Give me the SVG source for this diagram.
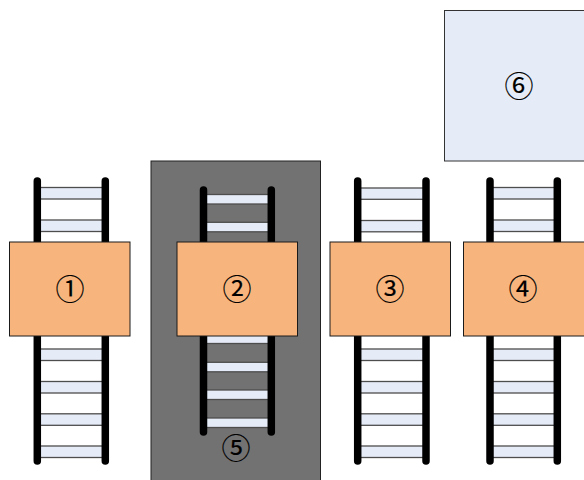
<svg xmlns="http://www.w3.org/2000/svg" width="584" height="480" viewBox="0 0 584 480">
  <style>
    .rail { stroke: #000; stroke-width: 7.5; stroke-linecap: round; fill: none; }
    .rung { fill: #e5ecf7; stroke: #4d4d4d; stroke-width: 1.3; }
    .box { fill: #f7b57d; stroke: #1a1a1a; stroke-width: 1; }
    .lbl { font-family: "Noto Sans CJK JP", "Noto Sans CJK SC", sans-serif; font-size: 29px; fill: #000; stroke: #000; stroke-width: 0.15; text-anchor: middle; dominant-baseline: central; }
  </style>
  <rect width="584" height="480" fill="#ffffff"/>

  <g id="panel5">
    <rect x="151" y="161" width="169.5" height="325" fill="#727272" stroke="#222" stroke-width="1"/>
    <text class="lbl" x="236" y="445.5">⑤</text>
  </g>

  <g id="node6">
    <rect x="444.5" y="10.5" width="145" height="150.5" fill="#e6ecf7" stroke="#333" stroke-width="1"/>
    <text class="lbl" x="519" y="83.5">⑥</text>
  </g>

  <g id="ladder1">
    <rect class="rung" x="40" y="187.5" width="64" height="11.5"/>
    <rect class="rung" x="40" y="220" width="64" height="11.5"/>
    <rect class="rung" x="40" y="349" width="64" height="11.5"/>
    <rect class="rung" x="40" y="381.5" width="64" height="11.5"/>
    <rect class="rung" x="40" y="413.8" width="64" height="11.5"/>
    <rect class="rung" x="40" y="446" width="64" height="11.5"/>
    <line class="rail" x1="37.3" y1="181" x2="37.3" y2="461"/>
    <line class="rail" x1="105.3" y1="181" x2="105.3" y2="461"/>
  </g>

  <g id="ladder2">
    <rect class="rung" x="206" y="194.5" width="63" height="9.5"/>
    <rect class="rung" x="206" y="222.3" width="63" height="9.5"/>
    <rect class="rung" x="206" y="334" width="63" height="9.5"/>
    <rect class="rung" x="206" y="362.3" width="63" height="9.5"/>
    <rect class="rung" x="206" y="390" width="63" height="9.5"/>
    <rect class="rung" x="206" y="418" width="63" height="9.5"/>
    <line class="rail" x1="203.5" y1="190" x2="203.5" y2="432"/>
    <line class="rail" x1="271.3" y1="190" x2="271.3" y2="432"/>
  </g>

  <g id="ladder3">
    <rect class="rung" x="360" y="188" width="64" height="11.3"/>
    <rect class="rung" x="360" y="220.5" width="64" height="11.3"/>
    <rect class="rung" x="360" y="349" width="64" height="11.5"/>
    <rect class="rung" x="360" y="381.5" width="64" height="11.5"/>
    <rect class="rung" x="360" y="413.8" width="64" height="11.5"/>
    <rect class="rung" x="360" y="446" width="64" height="11.5"/>
    <line class="rail" x1="357.7" y1="181" x2="357.7" y2="461"/>
    <line class="rail" x1="426" y1="181" x2="426" y2="461"/>
  </g>

  <g id="ladder4">
    <rect class="rung" x="492" y="187.5" width="63" height="11.5"/>
    <rect class="rung" x="492" y="220" width="63" height="11.5"/>
    <rect class="rung" x="492" y="349" width="63" height="11.5"/>
    <rect class="rung" x="492" y="381.5" width="63" height="11.5"/>
    <rect class="rung" x="492" y="413.8" width="63" height="11.5"/>
    <rect class="rung" x="492" y="446" width="63" height="11.5"/>
    <line class="rail" x1="490" y1="181" x2="490" y2="461"/>
    <line class="rail" x1="557.3" y1="181" x2="557.3" y2="461"/>
  </g>

  <g id="node1">
    <rect class="box" x="9.5" y="242" width="120.5" height="94"/>
    <text class="lbl" x="70" y="286.5">①</text>
  </g>
  <g id="node2">
    <rect class="box" x="177" y="242" width="120.5" height="94"/>
    <text class="lbl" x="237" y="286.5">②</text>
  </g>
  <g id="node3">
    <rect class="box" x="330" y="242" width="120.5" height="94"/>
    <text class="lbl" x="390" y="286.5">③</text>
  </g>
  <g id="node4">
    <rect class="box" x="463.5" y="242" width="125" height="94"/>
    <text class="lbl" x="523" y="286.5">④</text>
  </g>
</svg>
